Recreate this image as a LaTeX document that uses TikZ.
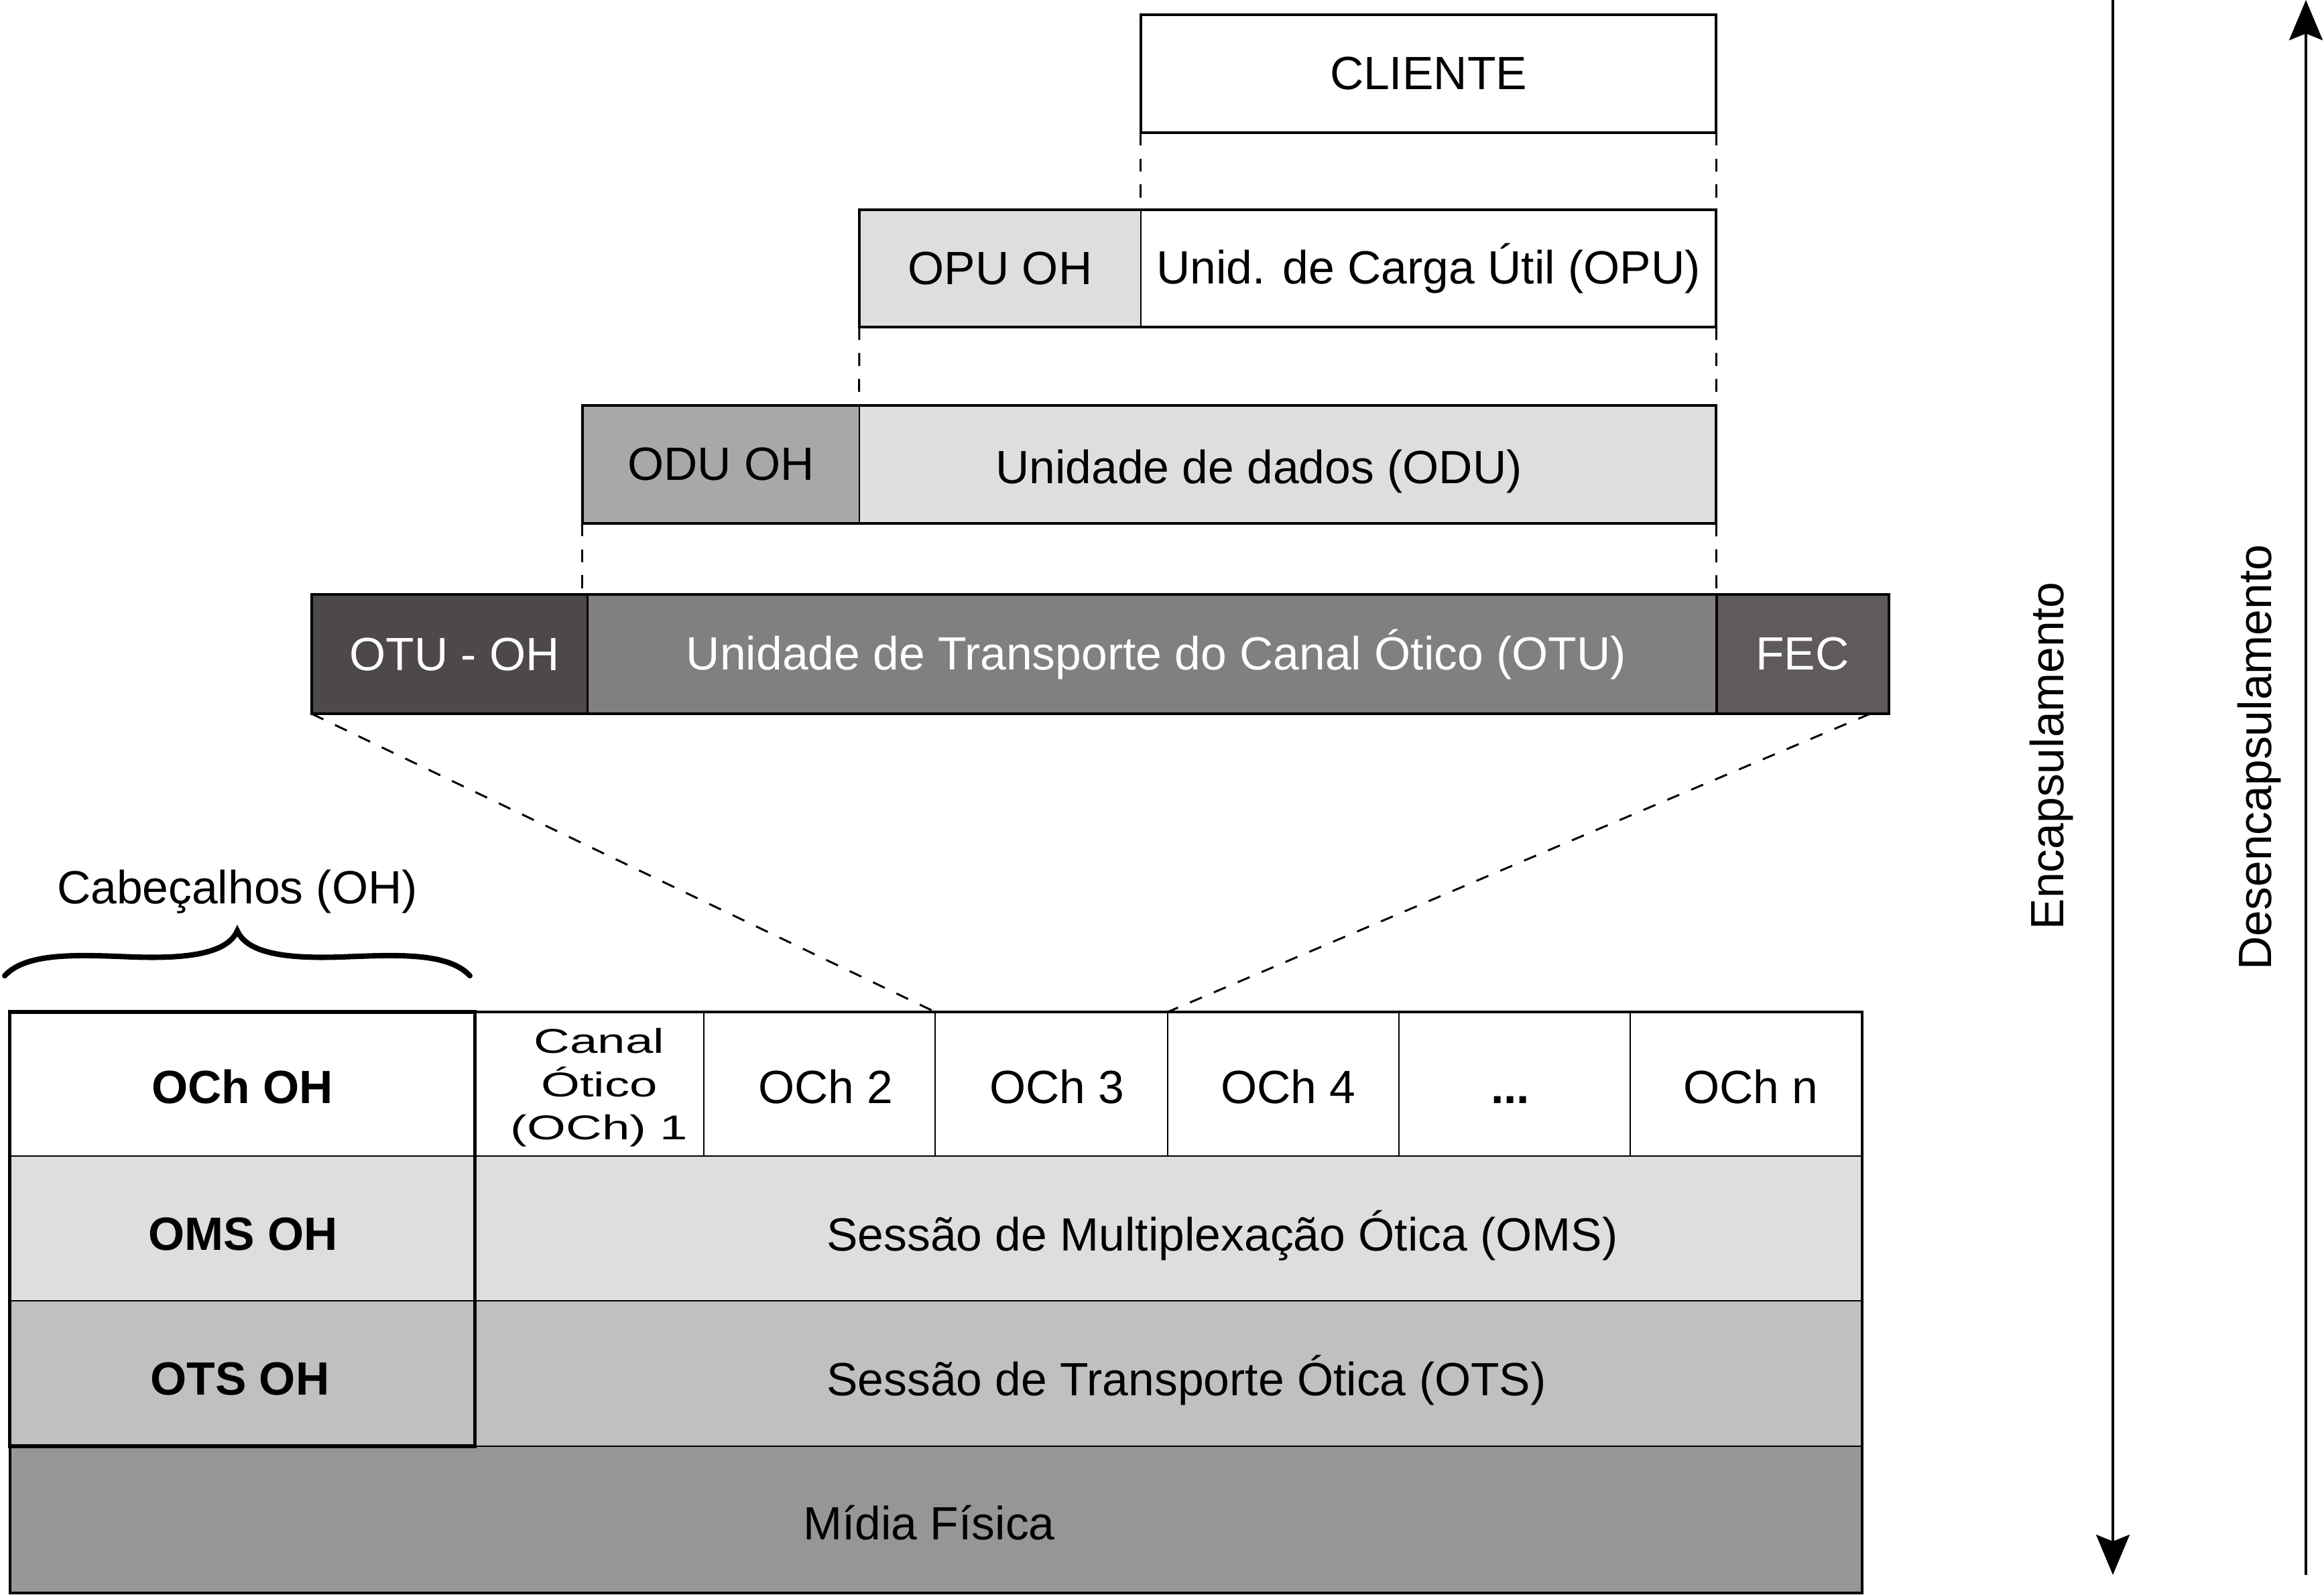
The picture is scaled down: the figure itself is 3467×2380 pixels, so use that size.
\documentclass[tikz,border=0pt]{standalone}
\usepackage{fontspec}
\setmainfont{Liberation Sans}
\newfontfamily\widefont[FakeStretch=1.45]{Liberation Sans}
\usetikzlibrary{arrows.meta}
\definecolor{lgrey}{HTML}{DEDEDE}
\definecolor{odugrey}{HTML}{A8A8A8}
\definecolor{otsgrey}{HTML}{C0C0C0}
\definecolor{midgrey}{HTML}{969696}
\definecolor{otuohc}{HTML}{4C4948}
\definecolor{otuc}{HTML}{82807E}
\definecolor{fecc}{HTML}{5F5B5A}
\begin{document}
\begin{tikzpicture}[x=0.01cm,y=-0.01cm,
  txt/.style={font=\fontsize{19.8}{23}\selectfont},
  btxt/.style={font=\fontsize{19.8}{23}\selectfont\bfseries},
  cell/.style={draw, line width=0.6pt, inner sep=0pt, outer sep=0pt, txt},
  thickrow/.style={line width=1.15pt},
  dline/.style={dash pattern=on 5.5pt off 5.5pt, line width=0.85pt},
  vline/.style={line width=0.9pt},
  tip/.style={-{Stealth[length=0.6cm,width=0.5cm,inset=0.1cm]}}]
\useasboundingbox (0,0) rectangle (3467,2380);

% ---- CLIENTE
\node[cell, minimum width=8.58cm, minimum height=1.76cm] (cliente) at (2131,110) {CLIENTE};
\draw[thickrow] (cliente.north west) rectangle (cliente.south east);

% ---- OPU row
\node[cell, fill=lgrey, minimum width=4.20cm, minimum height=1.75cm] (opuoh) at (1492,400.5) {OPU OH};
\node[cell, minimum width=8.58cm, minimum height=1.75cm] (opu) at (2131,400.5) {Unid. de Carga Útil (OPU)};
\draw[thickrow] (opuoh.north west) rectangle (opu.south east);

% ---- ODU row
\node[cell, fill=odugrey, minimum width=4.13cm, minimum height=1.76cm] (oduoh) at (1075.5,693) {ODU OH};
\node[cell, fill=lgrey, minimum width=12.78cm, minimum height=1.76cm] (odu) at (1921,693) {};
\node[txt] (odut) at (1878,703) {Unidade de dados (ODU)};
\draw[thickrow] (oduoh.north west) rectangle (odu.south east);

% ---- OTU row
\node[cell, fill=otuohc, text=white, minimum width=4.12cm, minimum height=1.78cm] (otuoh) at (671,976) {};
\node[txt, text=white] (otuoht) at (678,977) {OTU - OH};
\node[cell, fill=otuc, text=white, minimum width=16.83cm, minimum height=1.78cm] (otu) at (1718.5,976) {};
\node[txt, text=white] (otut) at (1725,977) {Unidade de Transporte do Canal Ótico (OTU)};
\node[cell, fill=fecc, text=white, minimum width=2.58cm, minimum height=1.78cm] (fec) at (2689,976) {FEC};
\draw[thickrow] (otuoh.north west) rectangle (fec.south east);
\draw[line width=1.15pt] (otu.north east) -- (otu.south east);

% ---- dashed connectors between layers
\draw[dline] (cliente.south west) -- (opu.north west);
\draw[dline] (cliente.south east) -- (opu.north east);
\draw[dline] (opuoh.south west) -- (odu.north west);
\draw[dline] (opu.south east) -- (odu.north east);
\draw[dline] (oduoh.south west) -- (oduoh.south west |- otuoh.north);
\draw[dline] (odu.south east) -- (otu.north east);

% ---- bottom table
\node[cell, btxt, minimum width=6.93cm, minimum height=2.15cm] (ochoh) at (361.5,1617.5) {};
\node[btxt] (ochoht) at (361.5,1622) {OCh OH};
\node[cell, btxt, fill=lgrey, minimum width=6.93cm, minimum height=2.16cm] (omsoh) at (361.5,1833) {};
\node[btxt] (omsoht) at (363,1842) {OMS OH};
\node[cell, btxt, fill=otsgrey, minimum width=6.93cm, minimum height=2.17cm] (otsoh) at (361.5,2049.5) {};
\node[btxt] (otsoht) at (358,2058) {OTS OH};

\node[cell, minimum width=3.42cm, minimum height=2.15cm] (och1) at (879,1617.5) {};
\node[align=center, font=\widefont\fontsize{14.6}{18.3}\selectfont] (och1t) at (894,1623) {Canal\\Ótico\\(OCh) 1};
\node[cell, minimum width=3.45cm, minimum height=2.15cm] (och2) at (1222.5,1617.5) {};
\node[txt] (och2t) at (1232,1622) {OCh 2};
\node[cell, minimum width=3.47cm, minimum height=2.15cm] (och3) at (1568.5,1617.5) {};
\node[txt] (och3t) at (1577,1622) {OCh 3};
\node[cell, minimum width=3.45cm, minimum height=2.15cm] (och4) at (1914.5,1617.5) {};
\node[txt] (och4t) at (1922,1622) {OCh 4};
\node[cell, minimum width=3.45cm, minimum height=2.15cm] (och5) at (2259.5,1617.5) {};
\node[txt] (och5t) at (2253,1622) {\textbf{...}\vphantom{Oh}};
\node[cell, minimum width=3.45cm, minimum height=2.15cm] (och6) at (2604.5,1617.5) {};
\node[txt] (och6t) at (2612,1622) {OCh n};

\node[cell, fill=lgrey, minimum width=20.69cm, minimum height=2.16cm] (oms) at (1742.5,1833) {};
\node[txt, anchor=west] (omst) at (1221,1844) {Sessão de Multiplexação Ótica (OMS)};
\node[cell, fill=otsgrey, minimum width=20.69cm, minimum height=2.17cm] (ots) at (1742.5,2049.5) {};
\node[txt, anchor=west] (otst) at (1221,2060) {Sessão de Transporte Ótica (OTS)};
\node[cell, fill=midgrey, minimum width=27.62cm, minimum height=2.19cm] (midia) at (1396,2267.5) {};
\node[txt] (midiat) at (1386,2272) {Mídia Física};

\draw[line width=1pt] (ochoh.north west) rectangle (midia.south east);
\draw[line width=1.5pt] (ochoh.north west) rectangle (otsoh.south east);

% ---- diagonal dashed connectors to OCh 3
\coordinate (fecr) at (2790,1065);
\draw[dline] (otuoh.south west) -- (och3.north west);
\draw[dline] (fecr) -- (och3.north east);

% ---- brace and label
\draw[line width=2.3pt, line cap=round]
  (7,1456) .. controls (40,1420) and (120,1425) .. (200,1428)
  .. controls (290,1431) and (340,1420) .. (354,1389)
  .. controls (368,1420) and (418,1431) .. (508,1428)
  .. controls (588,1425) and (668,1420) .. (701,1456);
\node[txt] (cab) at (354,1331) {Cabeçalhos (OH)};

% ---- side arrows
\coordinate (enctop) at (3152,0);
\coordinate (encbot) at (3152,2350);
\coordinate (desbot) at (3440,2350);
\coordinate (destop) at (3440,0);
\draw[vline, tip] (enctop) -- (encbot);
\draw[vline, tip] (desbot) -- (destop);
\node[txt, rotate=90] (enc) at (3060,1128) {Encapsulamento};
\node[txt, rotate=90] (desenc) at (3370,1130) {Desencapsulamento};
\end{tikzpicture}
\end{document}
